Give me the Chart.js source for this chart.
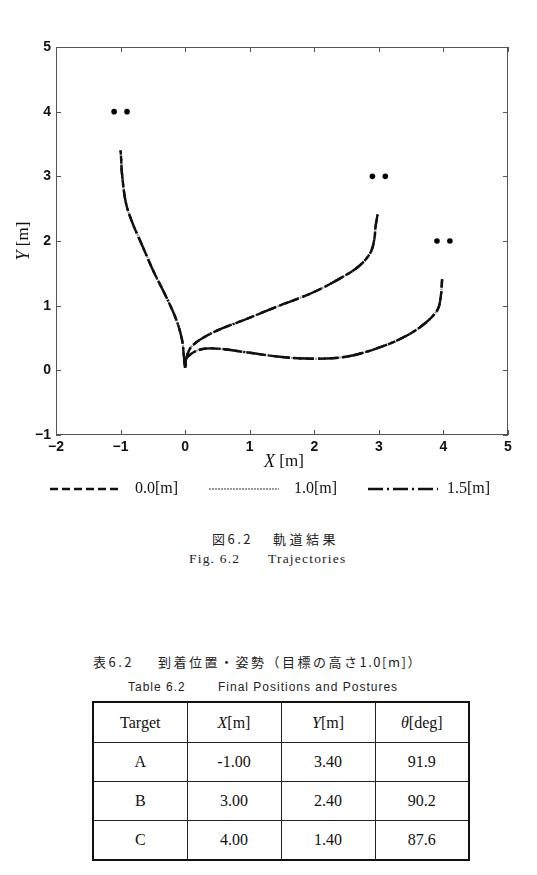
<!DOCTYPE html>
<html>
<head>
<meta charset="utf-8">
<script src="https://cdn.jsdelivr.net/npm/chart.js@4.4.1/dist/chart.umd.min.js"></script>
<style>
  body { margin: 0; background: #fff; width: 537px; height: 875px; position: relative; overflow: hidden; }
  #plotBox { position: absolute; left: 0; top: 0; width: 537px; height: 505px; }
  .cap { position: absolute; white-space: nowrap; color: #222; line-height: 16px; }
  .jp { font-family: "Noto Sans CJK JP", sans-serif; font-size: 13px; letter-spacing: 2.5px; }
  .ser { font-family: "Liberation Serif", serif; font-size: 13.5px; letter-spacing: 1.2px; }
  .sans { font-family: "Liberation Sans", sans-serif; font-size: 12px; letter-spacing: 1px; }
  #resultTable { position: absolute; left: 92px; top: 701px; width: 378px; border-collapse: collapse;
    table-layout: fixed; border: 2px solid #111; font-family: "Liberation Serif", serif; font-size: 16px; color: #111; }
  #resultTable td { border: 1px solid #222; text-align: center; padding: 0; height: 38px; }
  #resultTable tr:first-child td { height: 39px; }
</style>
</head>
<body>
<div id="plotBox"><canvas id="trajChart" width="537" height="505"></canvas></div>

<div class="cap jp" style="left:212px; top:531px;">図6.2</div>
<div class="cap jp" style="left:273px; top:531px; letter-spacing:3.5px;">軌道結果</div>
<div class="cap ser" style="left:189px; top:551px;">Fig. 6.2</div>
<div class="cap ser" style="left:268px; top:551px;">Trajectories</div>

<div class="cap jp" style="left:93px; top:654px;">表6.2</div>
<div class="cap jp" style="left:158px; top:654px;">到着位置・姿勢（目標の高さ<span style="letter-spacing:1.5px">1.0[m]</span>）</div>
<div class="cap sans" style="left:128px; top:679px;">Table 6.2</div>
<div class="cap sans" style="left:218px; top:679px;">Final Positions and Postures</div>

<table id="resultTable"></table>

<script>
// ---------------------------------------------
// Data
// ---------------------------------------------

// legend labels (height of the target)
var heightLabels = ["0.0[m]", "1.0[m]", "1.5[m]"];

// trajectory to target A
var pathAx = [0, -0.015, -0.05, -0.14, -0.30, -0.48, -0.66, -0.82, -0.92, -0.98, -0.99, -1.0];
var pathAy = [0.04, 0.17, 0.48, 0.79, 1.15, 1.51, 1.92, 2.29, 2.6, 3.06, 3.25, 3.4];

// trajectory to target B
var pathBx = [0, 0.02, 0.11, 0.42, 0.94, 1.46, 1.97, 2.38, 2.69, 2.87, 2.93, 2.95, 2.98];
var pathBy = [0.05, 0.2, 0.38, 0.58, 0.79, 1.0, 1.2, 1.41, 1.61, 1.82, 2.03, 2.23, 2.41];

// trajectory to target C
var pathCx = [0, 0.01, 0.17, 0.42, 0.94, 1.46, 1.97, 2.49, 3.0, 3.42, 3.73, 3.91, 3.96, 3.98];
var pathCy = [0.05, 0.17, 0.3, 0.34, 0.28, 0.21, 0.18, 0.21, 0.35, 0.53, 0.74, 0.94, 1.15, 1.41];

// target markers (two dots per target)
var targetX = [-1.1, -0.9, 2.9, 3.1, 3.9, 4.1];
var targetY = [4, 4, 3, 3, 2, 2];

// axis ticks
var xTicks = [-2, -1, 0, 1, 2, 3, 4, 5];
var yTicks = [-1, 0, 1, 2, 3, 4, 5];

// table 6.2
var tableHead = ["Target", "<i>X</i>[m]", "<i>Y</i>[m]", "<i>θ</i>[deg]"];
var tableTargets = ["A", "B", "C"];
var finalX = ["-1.00", "3.00", "4.00"];
var finalY = ["3.40", "2.40", "1.40"];
var finalTheta = ["91.9", "90.2", "87.6"];

// ---------------------------------------------
// Build table
// ---------------------------------------------
var tbl = document.getElementById("resultTable");
var html = "<tr>";
tableHead.forEach(function(h) { html += "<td>" + h + "</td>"; });
html += "</tr>";
for (var r = 0; r < tableTargets.length; r++) {
  html += "<tr><td>" + tableTargets[r] + "</td><td>" + finalX[r] + "</td><td>" + finalY[r] +
          "</td><td>" + finalTheta[r] + "</td></tr>";
}
tbl.innerHTML = html;

// ---------------------------------------------
// Datasets
// ---------------------------------------------
function toPoints(xs, ys) {
  var pts = [];
  for (var i = 0; i < xs.length; i++) pts.push({ x: xs[i], y: ys[i] });
  return pts;
}

var paths = [toPoints(pathAx, pathAy), toPoints(pathBx, pathBy), toPoints(pathCx, pathCy)];

// line style per height: dashed, gray, dash-dot
var lineStyles = [
  { color: "#111", width: 2.4, dash: [8, 4], order: 1 },
  { color: "#9a9a9a", width: 2, dash: [2, 1], order: 3 },
  { color: "#111", width: 2.4, dash: [15, 4, 2, 4], order: 2 }
];

var datasets = [];
heightLabels.forEach(function(lbl, h) {
  paths.forEach(function(p) {
    datasets.push({
      label: lbl,
      data: p,
      showLine: true,
      borderColor: lineStyles[h].color,
      borderWidth: lineStyles[h].width,
      borderDash: lineStyles[h].dash,
      pointRadius: 0,
      tension: 0.35,
      order: lineStyles[h].order
    });
  });
});

datasets.push({
  label: "targets",
  data: toPoints(targetX, targetY),
  showLine: false,
  pointRadius: 2.8,
  pointBackgroundColor: "#000",
  pointBorderWidth: 0,
  order: 0
});

// ---------------------------------------------
// Plugin: frame with inward ticks, axis titles, legend
// ---------------------------------------------
var frameAndLegend = {
  id: "frameAndLegend",
  afterDraw: function(chart) {
    var ctx = chart.ctx;
    var a = chart.chartArea;
    var xs = chart.scales.x, ys = chart.scales.y;
    ctx.save();

    // frame
    ctx.strokeStyle = "#555";
    ctx.lineWidth = 1;
    ctx.setLineDash([]);
    ctx.strokeRect(Math.round(a.left) + 0.5, Math.round(a.top) + 0.5,
                   Math.round(a.right - a.left) - 1, Math.round(a.bottom - a.top) - 1);

    // inward ticks on all four sides
    ctx.beginPath();
    xs.ticks.forEach(function(t) {
      var px = Math.round(xs.getPixelForValue(t.value)) + 0.5;
      ctx.moveTo(px, a.bottom); ctx.lineTo(px, a.bottom - 5);
      ctx.moveTo(px, a.top); ctx.lineTo(px, a.top + 5);
    });
    ys.ticks.forEach(function(t) {
      var py = Math.round(ys.getPixelForValue(t.value)) + 0.5;
      ctx.moveTo(a.left, py); ctx.lineTo(a.left + 5, py);
      ctx.moveTo(a.right, py); ctx.lineTo(a.right - 5, py);
    });
    ctx.stroke();

    // axis titles: italic letter + " [m]"
    function drawTitle(letter, cx, cy) {
      ctx.fillStyle = "#111";
      ctx.textBaseline = "middle";
      ctx.textAlign = "left";
      ctx.font = "italic 18px 'Liberation Serif'";
      var w1 = ctx.measureText(letter).width;
      ctx.font = "17px 'Liberation Serif'";
      var w2 = ctx.measureText(" [m]").width;
      var x0 = cx - (w1 + w2) / 2;
      ctx.font = "italic 18px 'Liberation Serif'";
      ctx.fillText(letter, x0, cy);
      ctx.font = "17px 'Liberation Serif'";
      ctx.fillText(" [m]", x0 + w1, cy);
    }
    drawTitle("X", (a.left + a.right) / 2 + 2, 462);
    ctx.save();
    ctx.translate(24, (a.top + a.bottom) / 2);
    ctx.rotate(-Math.PI / 2);
    drawTitle("Y", 0, 0);
    ctx.restore();

    // legend
    var legendLineX = [50, 209, 368];
    var legendTextX = [135, 294, 447];
    var legendY = 489;
    heightLabels.forEach(function(lbl, i) {
      var ds = chart.data.datasets[i * paths.length];
      ctx.strokeStyle = ds.borderColor;
      ctx.lineWidth = ds.borderWidth;
      ctx.setLineDash(ds.borderDash);
      ctx.beginPath();
      ctx.moveTo(legendLineX[i], legendY);
      ctx.lineTo(legendLineX[i] + 70, legendY);
      ctx.stroke();
      ctx.setLineDash([]);
      ctx.fillStyle = "#111";
      ctx.font = "16px 'Liberation Serif'";
      ctx.textBaseline = "middle";
      ctx.textAlign = "left";
      ctx.fillText(lbl, legendTextX[i], legendY);
    });

    ctx.restore();
  }
};

function minusLabel(v) {
  return v < 0 ? "\u2212" + Math.abs(v) : String(v);
}

var tickFont = { family: "'Liberation Sans', Arial, sans-serif", size: 14, weight: "bold" };

var trajChart = new Chart(document.getElementById("trajChart").getContext("2d"), {
  type: "scatter",
  data: { datasets: datasets },
  options: {
    responsive: false,
    animation: false,
    layout: { padding: { left: 0, right: 29, top: 47, bottom: 35 } },
    plugins: { legend: { display: false }, tooltip: { enabled: false } },
    scales: {
      x: {
        type: "linear",
        min: xTicks[0],
        max: xTicks[xTicks.length - 1],
        afterBuildTicks: function(scale) { scale.ticks = xTicks.map(function(v) { return { value: v }; }); },
        afterFit: function(scale) { scale.height = 35; },
        grid: { display: false, drawTicks: false },
        border: { display: false },
        ticks: { font: tickFont, color: "#111", padding: 4, maxRotation: 0, autoSkip: false, callback: minusLabel }
      },
      y: {
        type: "linear",
        min: yTicks[0],
        max: yTicks[yTicks.length - 1],
        afterBuildTicks: function(scale) { scale.ticks = yTicks.map(function(v) { return { value: v }; }); },
        afterFit: function(scale) { scale.width = 56; },
        grid: { display: false, drawTicks: false },
        border: { display: false },
        ticks: { font: tickFont, color: "#111", padding: 5, autoSkip: false, callback: minusLabel }
      }
    }
  },
  plugins: [frameAndLegend]
});
</script>
</body>
</html>
